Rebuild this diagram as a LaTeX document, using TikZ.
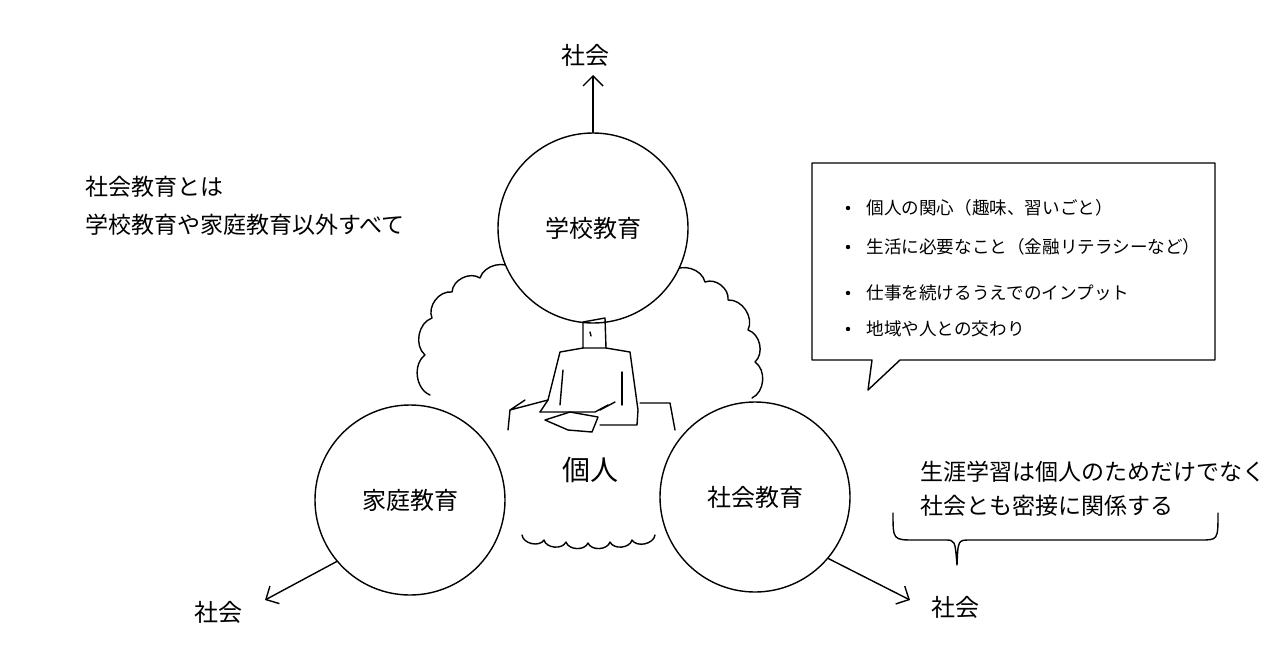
\documentclass[tikz,border=0pt]{standalone}
\usepackage{fontspec}
\setmainfont{Noto Sans CJK JP}
\usetikzlibrary{arrows.meta}
\tikzset{
 ln/.style={line width=0.7pt,line cap=round,line join=round},
 circ/.style={ln,circle,draw,minimum size=95pt,inner sep=0pt},
 lbl/.style={font=\fontsize{12}{14}\selectfont,inner sep=1pt},
 txt/.style={font=\fontsize{11.5}{14}\selectfont,anchor=west,inner sep=0pt},
 btxt/.style={font=\fontsize{8.8}{11}\selectfont,anchor=west,inner sep=0pt},
 arr/.style={ln,-{Straight Barb[length=5pt]}}
}
\begin{document}
\begin{tikzpicture}[x=0.5pt,y=-0.5pt]
\useasboundingbox (0,0) rectangle (1280,670);
% cloud
\draw[ln] (430,395) to[bend left=60] (425,355) to[bend left=60] (432,318) to[bend left=60] (452,292) to[bend left=60] (480,278) to[bend left=60] (515,270);
\draw[ln] (672,272) to[bend left=60] (705,282) to[bend left=60] (728,300) to[bend left=60] (748,330) to[bend left=60] (755,362) to[bend left=60] (752,398);
\draw[ln] (522,535) to[bend right=70] (544,540) to[bend right=70] (566,542) to[bend right=70] (588,543) to[bend right=70] (610,542) to[bend right=70] (632,540) to[bend right=70] (655,535);
% circles
\node[circ,fill=white] (school) at (593,228) {\fontsize{12}{14}\selectfont 学校教育};
\node[circ,fill=white] (home) at (410,500) {\fontsize{12}{14}\selectfont 家庭教育};
\node[circ,fill=white] (soc) at (755,497) {\fontsize{12}{14}\selectfont 社会教育};
% person
\draw[ln] (583,322) -- (583,348) -- (606,348) -- (605,318) -- (583,322);
\draw[ln] (590,332) -- (591,336);
\draw[ln] (583,348) -- (560,352) -- (548,400) -- (540,412);
\draw[ln] (606,348) -- (630,352) -- (638,410) -- (637,425) -- (600,425);
\draw[ln] (563,370) -- (560,405);
\draw[ln] (622,372) -- (622,405);
\draw[ln] (540,412) -- (595,412) -- (608,405);
\draw[ln] (545,420) -- (570,412) -- (598,417) -- (592,432) -- (568,430) -- (545,420);
\draw[ln] (600,410) -- (615,402);
\draw[ln] (548,400) -- (510,410) -- (525,400);
\draw[ln] (510,410) -- (508,430);
\draw[ln] (640,403) -- (670,403) -- (675,430);
\node[lbl,font=\fontsize{14}{16}\selectfont] (ind) at (590,470) {個人};
% arrows
\coordinate (t1) at (593,75); \coordinate (l1) at (265,600); \coordinate (r1) at (910,600);
\draw[arr] (school.north) -- (t1);
\draw[arr] (home.220) -- (l1);
\draw[arr] (soc.-40) -- (r1);
\node[lbl] (sT) at (585,55) {社会};
\node[lbl] (sL) at (218,612) {社会};
\node[lbl] (sR) at (955,607) {社会};
% left text
\node[txt] (d1) at (85,187) {社会教育とは};
\node[txt] (d2) at (85,225) {学校教育や家庭教育以外すべて};
% speech box
\draw[ln] (812,163) -- (1215,163) -- (1215,360) -- (900,360) -- (868,390) -- (872,360) -- (812,360) -- cycle;
\foreach \y/\t in {208/個人の関心（趣味、習いごと）,247/生活に必要なこと（金融リテラシーなど）,293/仕事を続けるうえでのインプット,329/地域や人との交わり}{
 \fill (848,\y) circle (2.2);
 \node[btxt] at (866,\y) {\t};
}
% brace
\draw[ln] (893,513) .. controls (893,540) .. (915,540) -- (945,540) .. controls (955,540) .. (957,565) .. controls (958,540) .. (970,540) -- (1200,540) .. controls (1218,540) .. (1218,513);
\node[txt] (b1) at (920,472) {生涯学習は個人のためだけでなく};
\node[txt] (b2) at (920,506) {社会とも密接に関係する};
\end{tikzpicture}
\end{document}
